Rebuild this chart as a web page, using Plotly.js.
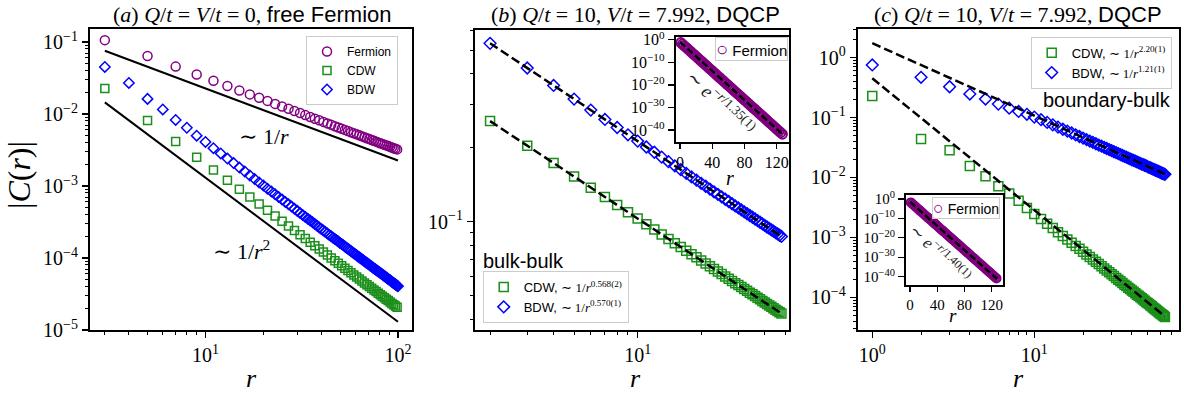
<!DOCTYPE html>
<html>
<head>
<meta charset="utf-8">
<script src="https://cdn.plot.ly/plotly-3.0.1.min.js"></script>
<style>html,body{margin:0;padding:0;background:#fff}</style>
</head>
<body>
<div id="plot" style="width:1184px;height:396px"></div>
<script>
// (a) free fermion, Q/t = V/t = 0
let rOddA = [3,5,7,9,11,13,15,17,19,21,23,25,27,29,31,33,35,37,39,41,43,45,47,49,51,53,55,57,59,61,63,65,67,69,71,73,75,77,79,81,83,85,87,89,91,93,95,97,99];
let fermionA = [0.106,0.0637,0.0455,0.0354,0.0289,0.0245,0.0212,0.0187,0.0168,0.0152,0.0138,0.0127,0.0118,0.0110,0.0103,0.00965,0.00909,0.00860,0.00816,0.00776,0.00740,0.00707,0.00677,0.00650,0.00624,0.00601,0.00579,0.00558,0.00540,0.00522,0.00505,0.00490,0.00475,0.00461,0.00448,0.00436,0.00424,0.00413,0.00403,0.00393,0.00384,0.00374,0.00366,0.00358,0.00350,0.00342,0.00335,0.00328,0.00322];
let cdwA = [2.25e-2,8.11e-3,4.14e-3,2.50e-3,1.67e-3,1.20e-3,9.01e-4,7.01e-4,5.61e-4,4.60e-4,3.83e-4,3.24e-4,2.78e-4,2.41e-4,2.11e-4,1.86e-4,1.65e-4,1.48e-4,1.33e-4,1.21e-4,1.10e-4,1.00e-4,9.17e-5,8.44e-5,7.79e-5,7.21e-5,6.70e-5,6.24e-5,5.82e-5,5.45e-5,5.11e-5,4.80e-5,4.51e-5,4.26e-5,4.02e-5,3.80e-5,3.60e-5,3.42e-5,3.25e-5,3.09e-5,2.94e-5,2.80e-5,2.68e-5,2.56e-5,2.45e-5,2.34e-5,2.25e-5,2.15e-5,2.07e-5];
let rAllA = [3,4,5,6,7,8,9,10,11,12,13,14,15,16,17,18,19,20,21,22,23,24,25,26,27,28,29,30,31,32,33,34,35,36,37,38,39,40,41,42,43,44,45,46,47,48,49,50,51,52,53,54,55,56,57,58,59,60,61,62,63,64,65,66,67,68,69,70,71,72,73,74,75,76,77,78,79,80,81,82,83,84,85,86,87,88,89,90,91,92,93,94,95,96,97,98,99,100];
let bdwA = [4.50e-2,2.70e-2,1.62e-2,1.157e-2,8.27e-3,6.43e-3,5.00e-3,4.09e-3,3.35e-3,2.83e-3,2.40e-3,2.08e-3,1.80e-3,1.59e-3,1.40e-3,1.25e-3,1.12e-3,1.015e-3,9.18e-4,8.39e-4,7.66e-4,7.04e-4,6.48e-4,6.00e-4,5.56e-4,5.17e-4,4.82e-4,4.51e-4,4.21e-4,3.96e-4,3.72e-4,3.51e-4,3.31e-4,3.13e-4,2.96e-4,2.81e-4,2.66e-4,2.53e-4,2.41e-4,2.30e-4,2.19e-4,2.09e-4,2.00e-4,1.91e-4,1.83e-4,1.76e-4,1.69e-4,1.62e-4,1.56e-4,1.50e-4,1.44e-4,1.39e-4,1.34e-4,1.29e-4,1.25e-4,1.20e-4,1.16e-4,1.13e-4,1.09e-4,1.05e-4,1.02e-4,9.89e-5,9.59e-5,9.30e-5,9.02e-5,8.76e-5,8.51e-5,8.27e-5,8.03e-5,7.81e-5,7.60e-5,7.40e-5,7.20e-5,7.01e-5,6.83e-5,6.66e-5,6.49e-5,6.33e-5,6.17e-5,6.02e-5,5.88e-5,5.74e-5,5.61e-5,5.48e-5,5.35e-5,5.23e-5,5.11e-5,5.00e-5,4.89e-5,4.79e-5,4.68e-5,4.58e-5,4.49e-5,4.40e-5,4.30e-5,4.22e-5,4.13e-5,4.05e-5];
// guide lines ~1/r and ~1/r^2
let refR = [3, 100];
let refOne = [0.0755, 0.00226];
let refTwo = [0.0145, 1.30e-5];

// (b) bulk-bulk at the DQCP
let rB = [2,3,4,5,6,7,8,9,10,11,12,13,14,15,16,17,18,19,20,21,22,23,24,25,26,27,28,29,30,31,32,33,34,35,36,37,38,39,40,41,42,43,44,45,46,47,48];
let bdwB = [0.533,0.423,0.359,0.316,0.285,0.261,0.242,0.226,0.213,0.2016,0.1919,0.1833,0.1757,0.1690,0.1629,0.1573,0.1523,0.1477,0.1434,0.1395,0.1358,0.1324,0.1293,0.1263,0.1235,0.1209,0.1184,0.1160,0.1138,0.1117,0.1097,0.1078,0.1060,0.1043,0.1026,0.1010,0.0995,0.0980,0.0966,0.0952,0.0940,0.0927,0.0915,0.0903,0.0892,0.0881,0.0871];
let cdwB = [0.257,0.2041,0.1733,0.1527,0.1377,0.1262,0.1170,0.1094,0.1030,0.0976,0.0929,0.0888,0.0851,0.0818,0.0789,0.0762,0.0738,0.0716,0.0695,0.0676,0.0658,0.0642,0.0627,0.0612,0.0599,0.0586,0.0574,0.0562,0.0552,0.0542,0.0532,0.0523,0.0514,0.0506,0.0498,0.0490,0.0483,0.0475,0.0469,0.0462,0.0456,0.0450,0.0444,0.0438,0.0433,0.0428,0.0423];
let fitRB = [2, 48];
let fitBdwB = [0.533, 0.0871];
let fitCdwB = [0.257, 0.0423];

// (c) boundary-bulk at the DQCP
let rC = [1,2,3,4,5,6,7,8,9,10,11,12,13,14,15,16,17,18,19,20,21,22,23,24,25,26,27,28,29,30,31,32,33,34,35,36,37,38,39,40,41,42,43,44,45,46,47,48,49,50,51,52,53,54,55,56,57,58,59,60,61,62,63,64];
let bdwC = [0.755,0.470,0.327,0.247,0.204,0.168,0.1437,0.1265,0.1134,0.1019,0.0921,0.0831,0.0757,0.0694,0.0639,0.0593,0.0552,0.0515,0.0483,0.0455,0.0429,0.0405,0.0385,0.0366,0.0348,0.0333,0.0318,0.0305,0.0292,0.0280,0.0269,0.0260,0.0250,0.0241,0.0233,0.0225,0.0218,0.0211,0.0205,0.0198,0.0193,0.0187,0.0182,0.0177,0.0172,0.0167,0.0164,0.0160,0.0156,0.0152,0.0148,0.0145,0.0142,0.0138,0.0135,0.0132,0.0130,0.0127,0.0124,0.0122,0.0119,0.0117,0.0115,0.0113];
let cdwC = [0.229,0.0437,0.0286,0.0155,0.0105,0.00716,0.0054,0.0041,0.0031,0.00245,0.00202,0.00169,0.00143,0.00122,0.00106,9.25e-4,8.15e-4,7.22e-4,6.44e-4,5.78e-4,5.20e-4,4.71e-4,4.28e-4,3.91e-4,3.59e-4,3.29e-4,3.04e-4,2.81e-4,2.61e-4,2.42e-4,2.26e-4,2.11e-4,1.97e-4,1.85e-4,1.74e-4,1.63e-4,1.54e-4,1.45e-4,1.38e-4,1.30e-4,1.24e-4,1.17e-4,1.11e-4,1.06e-4,1.01e-4,9.63e-5,9.19e-5,8.78e-5,8.39e-5,8.04e-5,7.71e-5,7.39e-5,7.08e-5,6.80e-5,6.53e-5,6.28e-5,6.05e-5,5.82e-5,5.60e-5,5.40e-5,5.21e-5,5.03e-5,4.86e-5,4.69e-5];
let fitRC = [1, 64];
let fitBdwC = [1.74, 0.0114];
let fitCdwC = [0.452, 4.8e-5];

// insets: fermion correlations, exponential decay
let rOdd = [1,3,5,7,9,11,13,15,17,19,21,23,25,27,29,31,33,35,37,39,41,43,45,47,49,51,53,55,57,59,61,63,65,67,69,71,73,75,77,79,81,83,85,87,89,91,93,95,97,99,101,103,105,107,109,111,113,115,117,119,121,123,125,127];
let fermionInB = [4.77e-2,1.08e-2,2.46e-3,5.60e-4,1.27e-4,2.89e-5,6.57e-6,1.49e-6,3.40e-7,7.72e-8,1.75e-8,3.99e-9,9.07e-10,2.06e-10,4.69e-11,1.06e-11,2.42e-12,5.50e-13,1.25e-13,2.84e-14,6.46e-15,1.47e-15,3.34e-16,7.59e-17,1.72e-17,3.92e-18,8.91e-19,2.03e-19,4.60e-20,1.05e-20,2.38e-21,5.41e-22,1.23e-22,2.79e-23,6.35e-24,1.44e-24,3.28e-25,7.46e-26,1.69e-26,3.85e-27,8.76e-28,1.99e-28,4.52e-29,1.03e-29,2.34e-30,5.31e-31,1.21e-31,2.74e-32,6.24e-33,1.42e-33,3.22e-34,7.33e-35,1.67e-35,3.79e-36,8.60e-37,1.96e-37,4.45e-38,1.01e-38,2.30e-39,5.22e-40,1.19e-40,2.70e-41,6.13e-42,1.39e-42];
let fermionInC = [1.55e-2,3.71e-3,8.89e-4,2.13e-4,5.10e-5,1.22e-5,2.93e-6,7.02e-7,1.68e-7,4.03e-8,9.66e-9,2.32e-9,5.55e-10,1.33e-10,3.18e-11,7.63e-12,1.83e-12,4.38e-13,1.05e-13,2.52e-14,6.03e-15,1.44e-15,3.46e-16,8.29e-17,1.99e-17,4.76e-18,1.14e-18,2.73e-19,6.55e-20,1.57e-20,3.76e-21,9.01e-22,2.16e-22,5.17e-23,1.24e-23,2.97e-24,7.12e-25,1.71e-25,4.09e-26,9.79e-27,2.35e-27,5.63e-28,1.35e-28,3.23e-29,7.74e-30,1.85e-30,4.44e-31,1.07e-31,2.55e-32,6.11e-33,1.47e-33,3.51e-34,8.41e-35,2.02e-35,4.83e-36,1.16e-36,2.77e-37,6.64e-38,1.59e-38,3.81e-39,9.14e-40,2.19e-40,5.25e-41,1.26e-41];
let fitRIn = [0, 128];
let fitInB = [1.0e-1, 6.6e-43];
let fitInC = [3.16e-2, 6.2e-42];

// tick labels
let decadeVals = [1, 0.1, 0.01, 0.001, 1e-4, 1e-5];
let decadeText = ['10<sup>0</sup>', '10<sup>−1</sup>', '10<sup>−2</sup>', '10<sup>−3</sup>', '10<sup>−4</sup>', '10<sup>−5</sup>'];
let insetYVals = [1, 1e-10, 1e-20, 1e-30, 1e-40];
let insetYText = ['10<sup>0</sup>', '10<sup>−10</sup>', '10<sup>−20</sup>', '10<sup>−30</sup>', '10<sup>−40</sup>'];
let insetXVals = [0, 40, 80, 120];

const W = 1184, H = 396;
const SERIF = "'Liberation Serif', 'DejaVu Serif', serif";
const SANS = "'Liberation Sans', 'DejaVu Sans', sans-serif";
const PURPLE = '#800080', GREEN = '#1a8f1a', BLUE = '#0000ff';

function px(x) { return x / W; }
function py(y) { return 1 - y / H; }

// minor log ticks between two decades
function minors(lo, hi) {
  let out = [];
  for (let e = lo; e < hi; e++) {
    for (let k = 2; k <= 9; k++) out.push(k * Math.pow(10, e));
  }
  return out;
}

function logAxis(x0, x1, range, anchor, vals, text, minorVals, size) {
  return {
    type: 'log', domain: [x0, x1], range: range, anchor: anchor,
    showline: true, mirror: true, linecolor: 'black', linewidth: 2,
    showgrid: false, zeroline: false,
    tickmode: 'array', tickvals: vals, ticktext: text,
    ticks: 'outside', ticklen: 6, tickwidth: 1.4, tickcolor: 'black',
    tickfont: {family: SERIF, size: size || 20, color: 'black'},
    minor: {tickmode: 'array', tickvals: minorVals, ticks: 'outside', ticklen: 3, tickwidth: 1, tickcolor: 'black', showgrid: false}
  };
}

function linAxis(x0, x1, range, anchor, vals, size) {
  return {
    type: 'linear', domain: [x0, x1], range: range, anchor: anchor,
    showline: true, mirror: true, linecolor: 'black', linewidth: 2,
    showgrid: false, zeroline: false,
    tickmode: 'array', tickvals: vals,
    ticks: 'outside', ticklen: 5, tickwidth: 1.4, tickcolor: 'black',
    tickfont: {family: SERIF, size: size, color: 'black'}
  };
}

function markers(x, y, xa, ya, sym, color, size, name, legend, show, lw) {
  return {
    x: x, y: y, xaxis: xa, yaxis: ya, type: 'scatter', mode: 'markers', name: name,
    legend: legend, showlegend: show,
    marker: {symbol: sym, size: size, color: color, line: {color: color, width: lw || 1.5}}
  };
}

function line(x, y, xa, ya, dash, width) {
  return {
    x: x, y: y, xaxis: xa, yaxis: ya, type: 'scatter', mode: 'lines', showlegend: false,
    line: {color: 'black', width: width, dash: dash}
  };
}

let traces = [
  // panel a
  line(refR, refOne, 'x', 'y', 'solid', 2),
  line(refR, refTwo, 'x', 'y', 'solid', 2),
  markers(rOddA, fermionA, 'x', 'y', 'circle-open', PURPLE, 9, 'Fermion', 'legend', true),
  markers(rOddA, cdwA, 'x', 'y', 'square-open', GREEN, 8, 'CDW', 'legend', true),
  markers(rAllA, bdwA, 'x', 'y', 'diamond-open', BLUE, 8, 'BDW', 'legend', true),
  // panel b
  markers(rB, cdwB, 'x2', 'y2', 'square-open', GREEN, 9,
    `CDW, <span style="font-family:'Liberation Serif'">∼ 1/<i>r</i><sup>0.568(2)</sup></span>`, 'legend2', true),
  markers(rB, bdwB, 'x2', 'y2', 'diamond-open', BLUE, 9,
    `BDW, <span style="font-family:'Liberation Serif'">∼ 1/<i>r</i><sup>0.570(1)</sup></span>`, 'legend2', true),
  line(fitRB, fitBdwB, 'x2', 'y2', '9px,4px', 2.5),
  line(fitRB, fitCdwB, 'x2', 'y2', '9px,4px', 2.5),
  // panel c
  markers(rC, cdwC, 'x3', 'y3', 'square-open', GREEN, 9,
    `CDW, <span style="font-family:'Liberation Serif'">∼ 1/<i>r</i><sup>2.20(1)</sup></span>`, 'legend3', true),
  markers(rC, bdwC, 'x3', 'y3', 'diamond-open', BLUE, 9,
    `BDW, <span style="font-family:'Liberation Serif'">∼ 1/<i>r</i><sup>1.21(1)</sup></span>`, 'legend3', true),
  line(fitRC, fitBdwC, 'x3', 'y3', '9px,4px', 2.5),
  line(fitRC, fitCdwC, 'x3', 'y3', '9px,4px', 2.5),
  // inset b
  markers(rOdd, fermionInB, 'x4', 'y4', 'circle-open', PURPLE, 9, 'Fermion', 'legend', false, 2),
  line(fitRIn, fitInB, 'x4', 'y4', '7px,3px', 2.5),
  // inset c
  markers(rOdd, fermionInC, 'x5', 'y5', 'circle-open', PURPLE, 8, 'Fermion', 'legend', false, 2),
  line(fitRIn, fitInC, 'x5', 'y5', '7px,3px', 2.5)
];

function legendBox(x, xanchor, y, yanchor, size) {
  return {
    x: x, xanchor: xanchor, y: y, yanchor: yanchor,
    bgcolor: 'rgba(255,255,255,0.85)', bordercolor: '#cccccc', borderwidth: 1,
    font: {family: SANS, size: size, color: 'black'}, tracegroupgap: 0,
    itemsizing: 'trace', itemwidth: 30
  };
}

let annFont = function (size, family, color) {
  return {family: family || SERIF, size: size, color: color || 'black'};
};

let annotations = [
  {x: px(252), y: py(15), text: `(<i>a</i>) <i>Q</i>/<i>t</i> = <i>V</i>/<i>t</i> = 0, <span style="font-family:'Liberation Sans'">free Fermion</span>`, font: annFont(22)},
  {x: px(635), y: py(15), text: `(<i>b</i>) <i>Q</i>/<i>t</i> = 10, <i>V</i>/<i>t</i> = 7.992, <span style="font-family:'Liberation Sans'">DQCP</span>`, font: annFont(22)},
  {x: px(1018), y: py(15), text: `(<i>c</i>) <i>Q</i>/<i>t</i> = 10, <i>V</i>/<i>t</i> = 7.992, <span style="font-family:'Liberation Sans'">DQCP</span>`, font: annFont(22)},
  {x: px(251), y: py(378), text: '<i>r</i>', font: annFont(26)},
  {x: px(635), y: py(378), text: '<i>r</i>', font: annFont(26)},
  {x: px(1018), y: py(378), text: '<i>r</i>', font: annFont(26)},
  {x: px(19), y: py(175), text: '|<i>C</i>(<i>r</i>)|', textangle: -90, font: annFont(32)},
  {x: px(264), y: py(136), text: '∼ 1/<i>r</i>', font: annFont(22)},
  {x: px(241), y: py(250), text: '∼ 1/<i>r</i><sup>2</sup>', font: annFont(22)},
  {x: px(481), y: py(261), xanchor: 'left', text: 'bulk-bulk', font: annFont(20, SANS)},
  {x: px(1173), y: py(100), xanchor: 'right', text: 'boundary-bulk', font: annFont(20, SANS)},
  {x: px(730), y: py(178), text: '<i>r</i>', font: annFont(20)},
  {x: px(953), y: py(315), text: '<i>r</i>', font: annFont(19)},
  {x: px(721), y: py(102), textangle: 44, text: '∼ <i>e</i><sup>−<i>r</i>/1.35(1)</sup>', font: annFont(19, SERIF, '#222')},
  {x: px(940), y: py(252), textangle: 44, text: '∼ <i>e</i><sup>−<i>r</i>/1.40(1)</sup>', font: annFont(17, SERIF, '#222')},
  // inset legends
  {x: px(788), y: py(37), xanchor: 'right', yanchor: 'top',
   text: `<span style="color:${PURPLE};font-size:20px">○</span> Fermion`,
   font: annFont(15, SANS), bgcolor: 'rgba(255,255,255,0.85)', bordercolor: '#cccccc', borderwidth: 1, borderpad: 0},
  {x: px(1000), y: py(197), xanchor: 'right', yanchor: 'top',
   text: `<span style="color:${PURPLE};font-size:18px">○</span> Fermion`,
   font: annFont(14, SANS), bgcolor: 'rgba(255,255,255,0.85)', bordercolor: '#cccccc', borderwidth: 1, borderpad: 0}
].map(a => Object.assign({xref: 'paper', yref: 'paper', showarrow: false, xanchor: 'center', yanchor: 'middle'}, a));

let layout = {
  width: W, height: H, autosize: false,
  margin: {l: 0, r: 0, t: 0, b: 0, pad: 0},
  paper_bgcolor: 'white', plot_bgcolor: 'white',
  font: {family: SERIF, color: 'black'},
  hovermode: false,
  xaxis: logAxis(px(90), px(412), [0.400, 2.073], 'y', [10, 100], ['10<sup>1</sup>', '10<sup>2</sup>'], minors(0, 2)),
  yaxis: logAxis(py(330), py(29), [-5, -0.82], 'x', decadeVals, decadeText, minors(-5, -1)),
  xaxis2: logAxis(px(475), px(789), [0.2297, 1.717], 'y2', [10], ['10<sup>1</sup>'], minors(0, 2)),
  yaxis2: logAxis(py(330), py(30), [-1.441, -0.219], 'x2', [0.1], ['10<sup>−1</sup>'], minors(-2, 0)),
  xaxis3: logAxis(px(857.7), px(1179), [-0.09, 1.893], 'y3', [1, 10], ['10<sup>0</sup>', '10<sup>1</sup>'], minors(0, 2)),
  yaxis3: logAxis(py(330), py(29), [-4.545, 0.478], 'x3', decadeVals, decadeText, minors(-5, 1)),
  xaxis4: linAxis(px(675.7), px(789), [-5.3, 135.2], 'y4', insetXVals, 16),
  yaxis4: logAxis(py(141.7), py(36.7), [-45.2, 1.3], 'x4', insetYVals, insetYText, [], 16),
  xaxis5: linAxis(px(906), px(1002.7), [-5.9, 136.1], 'y5', insetXVals, 15),
  yaxis5: logAxis(py(285), py(195), [-44.3, 2.0], 'x5', insetYVals, insetYText, [], 15),
  legend: legendBox(px(398), 'right', py(36), 'top', 12),
  legend2: legendBox(px(482.7), 'left', py(323), 'bottom', 13),
  legend3: legendBox(px(1171.7), 'right', py(36.7), 'top', 13),
  annotations: annotations
};

Plotly.newPlot('plot', traces, layout, {displayModeBar: false, staticPlot: true});
</script>
</body>
</html>
